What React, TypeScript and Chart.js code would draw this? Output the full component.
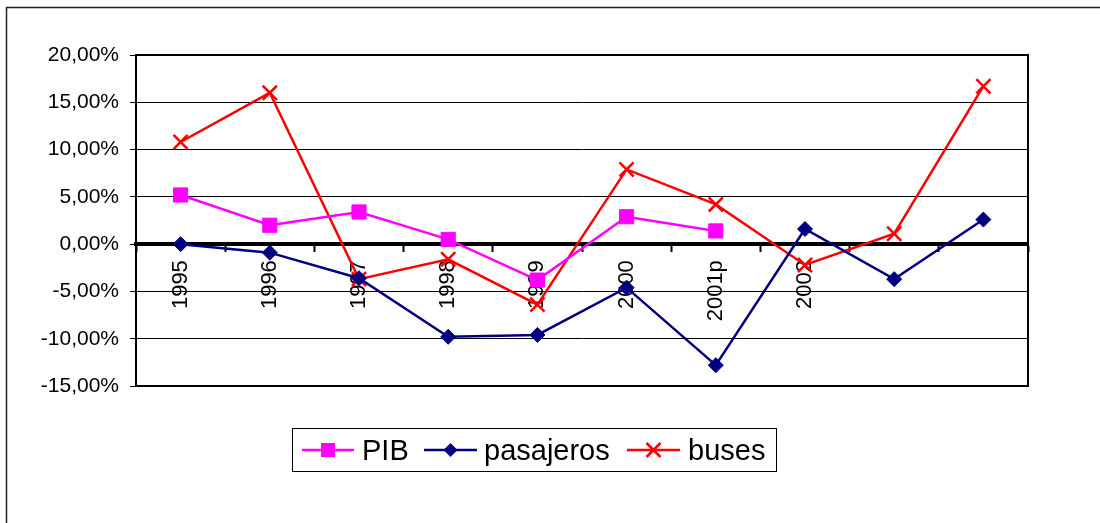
import React, { useEffect, useRef } from "react";
import { Chart, registerables } from "chart.js";

Chart.register(...registerables);

const categories = ["1995", "1996", "1997", "1998", "1999", "2000", "2001p", "2002", "", ""];
const pib = [5.2, 2.0, 3.4, 0.5, -3.8, 2.9, 1.4, null, null, null];
const pasajeros = [0.0, -0.9, -3.6, -9.8, -9.6, -4.6, -12.8, 1.6, -3.7, 2.6];
const buses = [10.8, 16.0, -3.7, -1.6, -6.4, 7.9, 4.2, -2.2, 1.1, 16.7];

const seriesNames = ["PIB", "pasajeros", "buses"];
const seriesColors = ["#FF00FF", "#000080", "#FF0000"];

const FONT = '"Liberation Sans", Arial, sans-serif';

const fmt = (v: number) => v.toFixed(2).replace(".", ",") + "%";

const framePlugin = {
  id: "frame",
  beforeDraw(chart: any) {
    const ctx = chart.ctx;
    ctx.save();
    ctx.fillStyle = "#fff";
    ctx.fillRect(0, 0, chart.width, chart.height);
    ctx.strokeStyle = "#222";
    ctx.lineWidth = 1.5;
    ctx.strokeRect(6.5, 7.5, chart.width + 20, chart.height + 20);
    ctx.restore();
  },
  beforeDatasetsDraw(chart: any) {
    const { ctx, chartArea: a } = chart;
    ctx.save();
    ctx.strokeStyle = "#000";
    ctx.lineWidth = 2;
    ctx.strokeRect(a.left, a.top, a.right - a.left, a.bottom - a.top);
    ctx.restore();
  },
  afterDraw(chart: any) {
    const ctx = chart.ctx;
    ctx.save();
    ctx.strokeStyle = "#000";
    ctx.lineWidth = 1;
    ctx.strokeRect(292.5, 428.5, 484, 43);
    const items = [
      { x1: 302, x2: 354, tx: 362 },
      { x1: 424, x2: 477, tx: 484 },
      { x1: 627, x2: 680, tx: 688 },
    ];
    const y = 450;
    items.forEach((it, i) => {
      const c = seriesColors[i];
      ctx.strokeStyle = c;
      ctx.fillStyle = c;
      ctx.lineWidth = 2.5;
      ctx.beginPath();
      ctx.moveTo(it.x1, y);
      ctx.lineTo(it.x2, y);
      ctx.stroke();
      const cx = (it.x1 + it.x2) / 2;
      if (i === 0) {
        ctx.fillRect(cx - 7, y - 7, 14, 14);
      } else if (i === 1) {
        ctx.beginPath();
        ctx.moveTo(cx - 7, y);
        ctx.lineTo(cx, y - 7);
        ctx.lineTo(cx + 7, y);
        ctx.lineTo(cx, y + 7);
        ctx.closePath();
        ctx.fill();
      } else {
        ctx.beginPath();
        ctx.moveTo(cx - 7, y - 7);
        ctx.lineTo(cx + 7, y + 7);
        ctx.moveTo(cx + 7, y - 7);
        ctx.lineTo(cx - 7, y + 7);
        ctx.stroke();
      }
      ctx.fillStyle = "#000";
      ctx.font = `29px ${FONT}`;
      ctx.textBaseline = "alphabetic";
      ctx.textAlign = "left";
      ctx.fillText(seriesNames[i], it.tx, 460);
    });
    ctx.restore();
  },
};

export default function App() {
  const ref = useRef<HTMLCanvasElement | null>(null);

  useEffect(() => {
    document.body.style.margin = "0";
    const canvas = ref.current;
    if (!canvas) return;
    const chart = new Chart(canvas, {
      type: "line",
      data: {
        labels: categories,
        datasets: [
          {
            label: seriesNames[0],
            data: pib,
            borderColor: seriesColors[0],
            backgroundColor: seriesColors[0],
            borderWidth: 2.5,
            pointStyle: "rect",
            pointRadius: 10,
            pointBorderWidth: 1,
            pointBackgroundColor: seriesColors[0],
            pointBorderColor: seriesColors[0],
            spanGaps: false,
            tension: 0,
          },
          {
            label: seriesNames[1],
            data: pasajeros,
            borderColor: seriesColors[1],
            backgroundColor: seriesColors[1],
            borderWidth: 2.5,
            pointStyle: "rectRot",
            pointRadius: 7.5,
            pointBorderWidth: 1,
            pointBackgroundColor: seriesColors[1],
            pointBorderColor: seriesColors[1],
            tension: 0,
          },
          {
            label: seriesNames[2],
            data: buses,
            borderColor: seriesColors[2],
            backgroundColor: seriesColors[2],
            borderWidth: 2.5,
            pointStyle: "crossRot",
            pointRadius: 10,
            pointBorderWidth: 2.5,
            pointBorderColor: seriesColors[2],
            tension: 0,
          },
        ],
      },
      options: {
        responsive: false,
        animation: false,
        devicePixelRatio: 1,
        layout: { padding: { left: 0, top: 55, right: 72, bottom: 137 } },
        plugins: {
          legend: { display: false },
          tooltip: { enabled: false },
          title: { display: false },
        },
        scales: {
          x: {
            type: "category",
            offset: true,
            position: { y: 0 },
            grid: {
              offset: true,
              drawOnChartArea: false,
              drawTicks: true,
              tickLength: 6,
              tickWidth: 2,
              tickColor: "#000",
            },
            border: { display: true, width: 4, color: "#000" },
            ticks: {
              autoSkip: false,
              minRotation: 90,
              maxRotation: 90,
              padding: 10,
              color: "#000",
              font: { family: FONT, size: 22 },
            },
          },
          y: {
            type: "linear",
            min: -15,
            max: 20,
            afterFit(scale: any) {
              scale.width = 136;
            },
            grid: {
              color: "#000",
              lineWidth: 1,
              tickLength: 6,
              tickColor: "#000",
            },
            border: { display: true, width: 2, color: "#000" },
            ticks: {
              stepSize: 5,
              padding: 11,
              color: "#000",
              font: { family: FONT, size: 21 },
              callback: (v: any) => fmt(Number(v)),
            },
          },
        },
      },
      plugins: [framePlugin],
    });
    return () => chart.destroy();
  }, []);

  return (
    <div style={{ width: 1100, height: 523 }}>
      <canvas ref={ref} width={1100} height={523} style={{ display: "block" }} />
    </div>
  );
}
